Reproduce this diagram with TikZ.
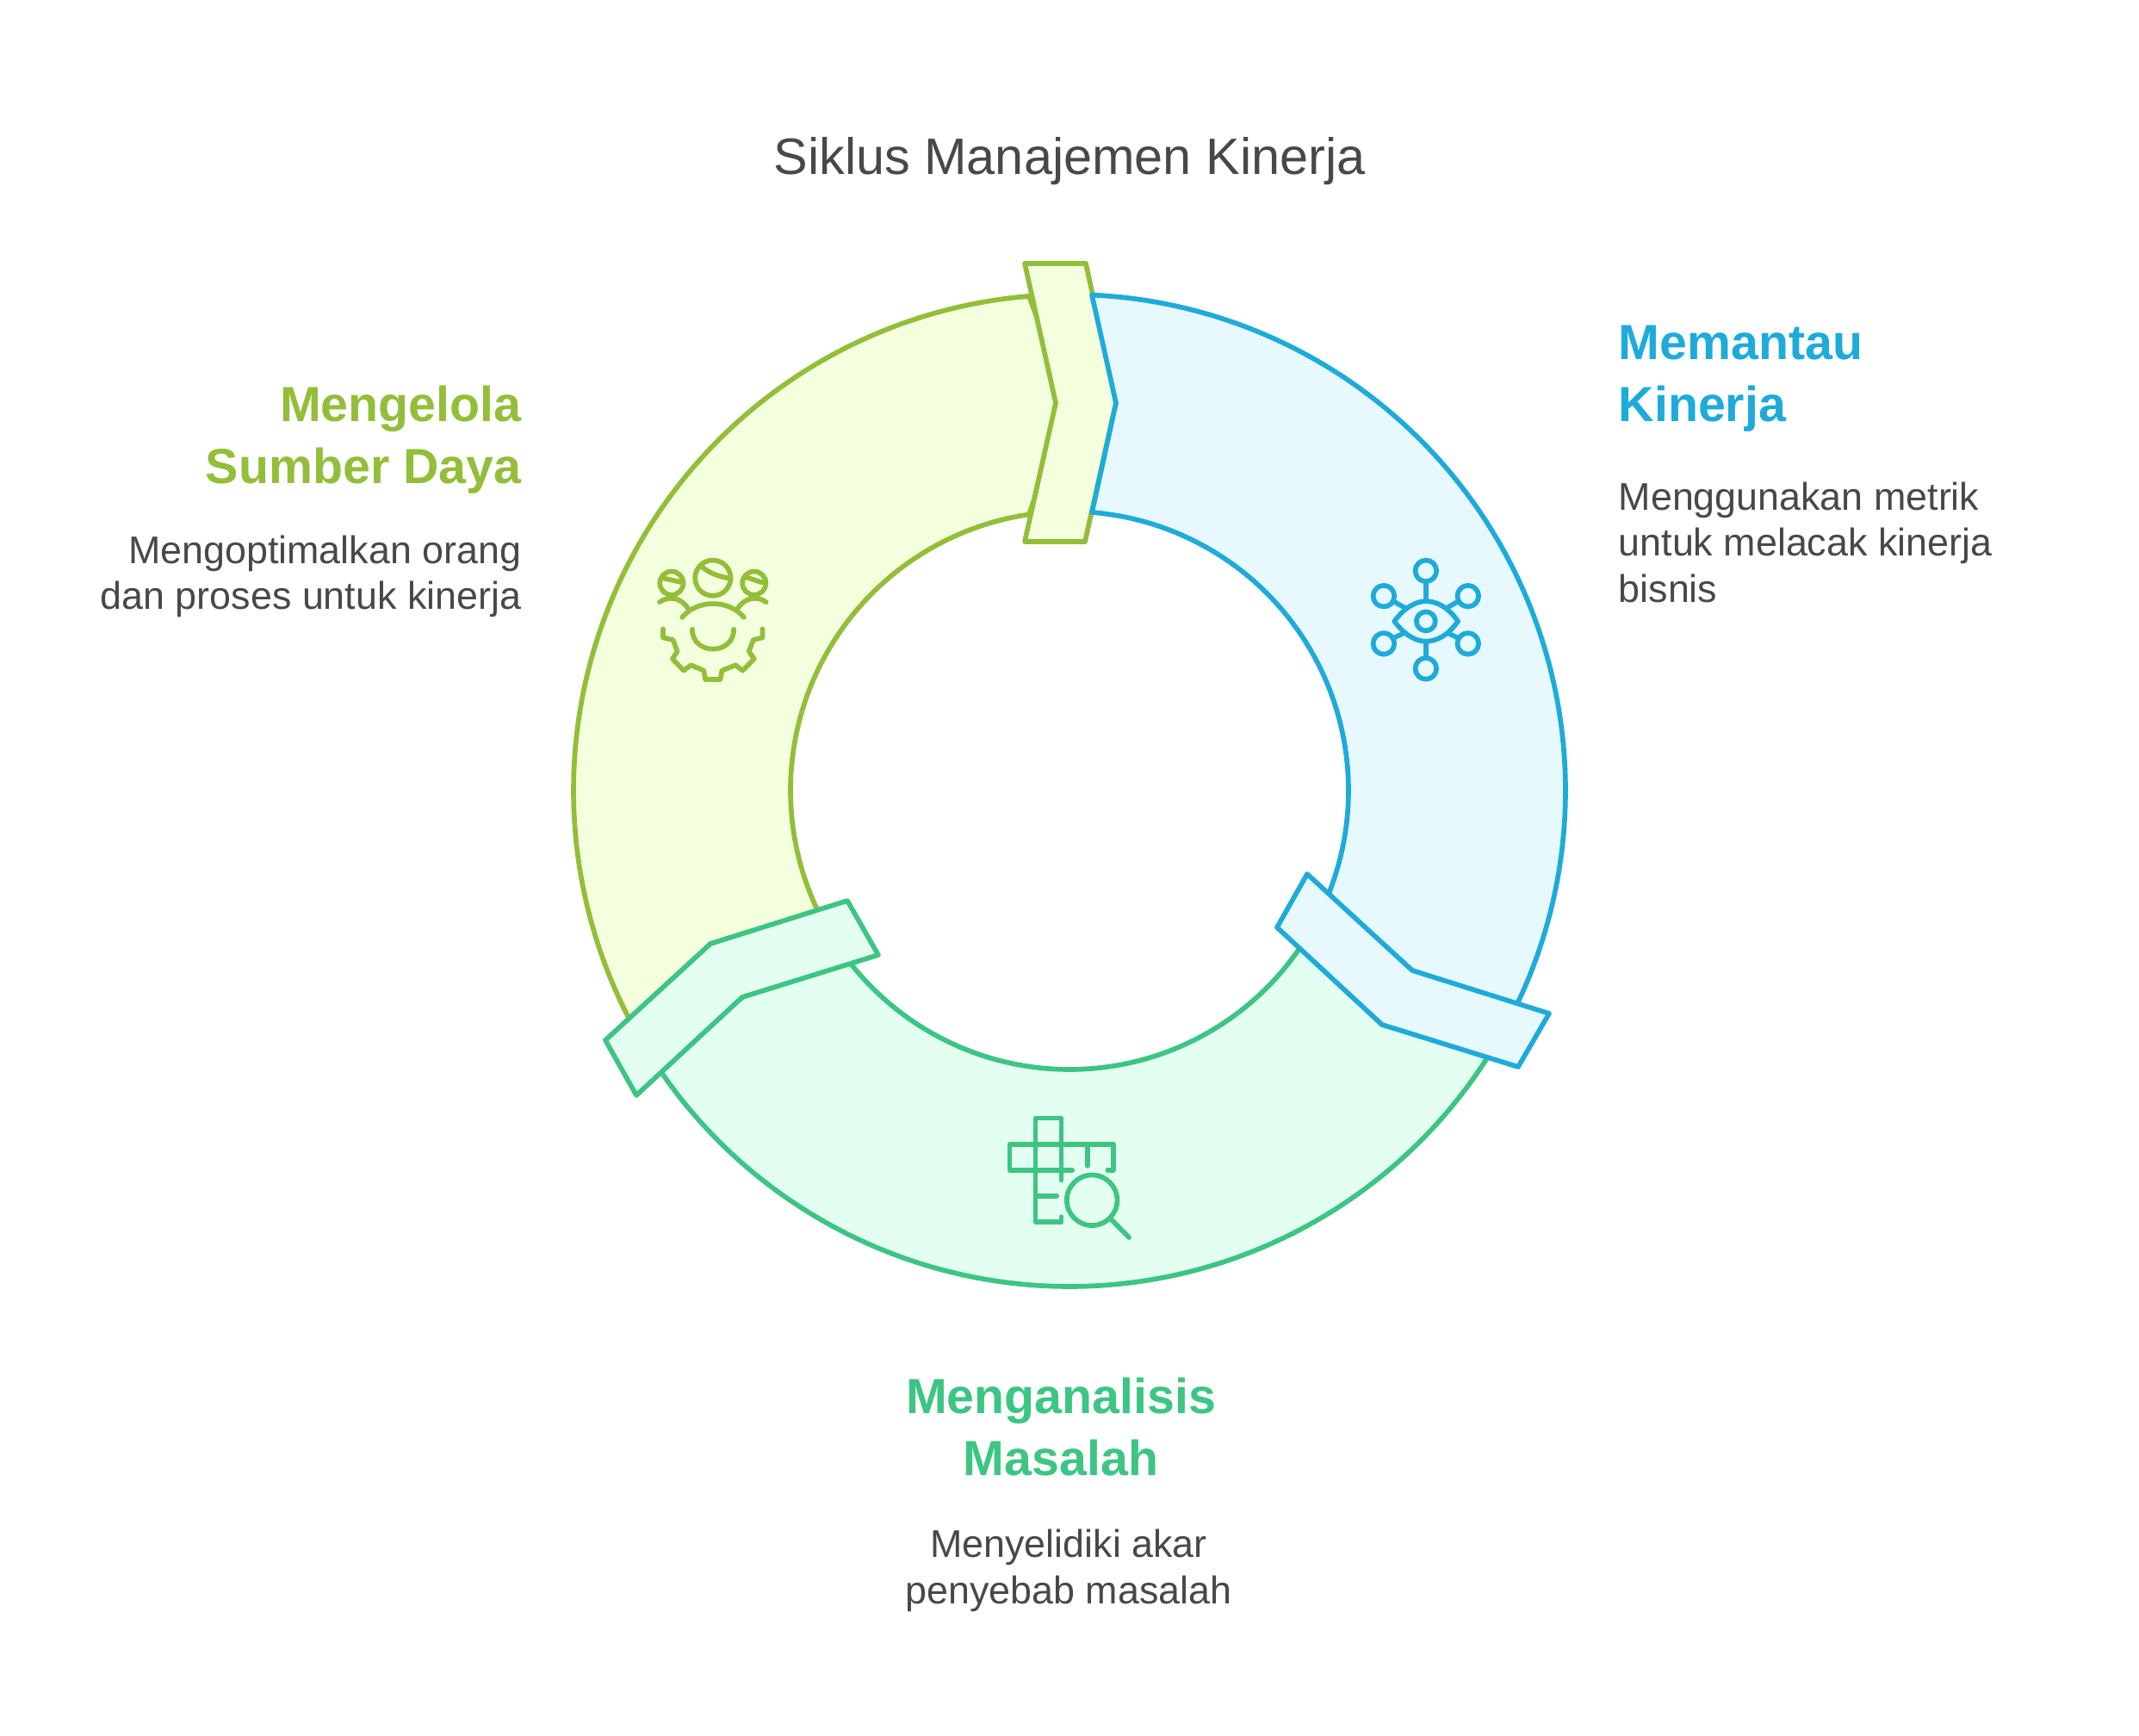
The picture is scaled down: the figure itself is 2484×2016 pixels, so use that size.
\documentclass[tikz,border=0pt]{standalone}
\usepackage{fontspec}
\setmainfont{Liberation Sans}
\usetikzlibrary{positioning,calc}

\definecolor{limeline}{HTML}{93BE39}
\definecolor{limefill}{HTML}{F4FFDE}
\definecolor{blueline}{HTML}{1EABDA}
\definecolor{bluefill}{HTML}{E7F9FF}
\definecolor{greenline}{HTML}{3CC583}
\definecolor{greenfill}{HTML}{E3FFF1}
\definecolor{textgray}{HTML}{484848}

\begin{document}
\begin{tikzpicture}[
  x=0.01cm, y=0.01cm,
  band/.style={line width=1.62pt, line join=round},
  icon/.style={line width=1.62pt, line join=round, line cap=round},
  heading/.style={inner sep=0pt, font=\fontsize{16.3}{20.5}\selectfont\bfseries},
  desc/.style={inner sep=0pt, text=textgray, font=\fontsize{12.75}{15.3}\selectfont}
]
\useasboundingbox (0,0) rectangle (2484,2016);
\coordinate (ctr) at (1242,1098);

% =======================================================
%                     RING
% =======================================================
% Mengelola Sumber Daya
\draw[band, draw=limeline, fill=limefill] ($(ctr)+(94.68:576)$) arc[start angle=94.68, end angle=208, radius=576]
  -- (825,920) -- ($(ctr)+(205.6:324)$) arc[start angle=205.6, end angle=98.36, radius=324] -- (1240,1548) -- cycle;
\draw[band, draw=limeline, fill=limefill] (1190,1710) -- (1261,1710) -- (1296,1548) -- (1260,1387) -- (1190,1387) -- (1226,1548) -- cycle;

% Menganalisis Masalah
\draw[band, draw=greenline, fill=greenfill] ($(ctr)+(-32:576)$) arc[start angle=-32, end angle=-146, radius=576]
  -- (862,858) -- ($(ctr)+(-142.4:324)$) arc[start angle=-142.4, end angle=-34.2, radius=324] -- (1605,826) -- cycle;
\draw[band, draw=greenline, fill=greenfill] (984,970) -- (1020,907) -- (862,858) -- (739,744) -- (703,808) -- (825,920) -- cycle;

% Memantau Kinerja
\draw[band, draw=blueline, fill=bluefill] ($(ctr)+(87.41:576)$) arc[start angle=87.41, end angle=-26, radius=576]
  -- (1640,889) -- ($(ctr)+(-22.5:324)$) arc[start angle=-22.5, end angle=85.38, radius=324] -- (1296,1548) -- cycle;
\draw[band, draw=blueline, fill=bluefill] (1518,1001) -- (1640,889) -- (1799,839) -- (1763,777) -- (1605,826) -- (1483,939) -- cycle;

% =======================================================
%                     ICONS
% =======================================================
% people and gear
\begin{scope}[shift={(720,1396)}, x=0.00333cm, y=-0.00333cm, icon, draw=limeline]
  \draw (324,154) circle[radius=62];
  \draw (283,113) .. controls (315,140) and (350,150) .. (387,156);
  \draw (180,172) circle[radius=41];
  \draw (152,155) -- (212,168);
  \draw (468,172) circle[radius=41];
  \draw (442,152) -- (497,170);
  \draw (138,238) .. controls (170,215) and (215,222) .. (238,262);
  \draw (510,238) .. controls (478,215) and (433,222) .. (410,262);
  \draw (217,291) .. controls (270,228) and (380,228) .. (432,291);
  \draw (252,333) .. controls (252,425) and (397,425) .. (397,333);
  \draw (150,332) -- (150,362) -- (185,370) -- (200,410) -- (183,436) -- (222,477) -- (248,458) -- (292,477) -- (298,508)
    -- (350,508) -- (356,477) -- (403,458) -- (428,477) -- (468,436) -- (450,410) -- (465,370) -- (497,362) -- (497,332);
\end{scope}

% eye and network
\begin{scope}[shift={(1560,1386)}, x=0.00333cm, y=-0.00333cm, icon, draw=blueline]
  \foreach \px/\py in {288/99, 288/440, 141/187, 435/187, 141/353, 435/353}
    \draw (\px,\py) circle[radius=37];
  \draw (288,275) circle[radius=33];
  \draw (178,275) .. controls (215,225) and (255,205) .. (288,205) .. controls (325,205) and (365,225) .. (400,275)
    .. controls (365,325) and (325,345) .. (288,345) .. controls (255,345) and (215,325) .. (178,275) -- cycle;
  \draw (288,143) -- (288,205);
  \draw (288,345) -- (288,397);
  \draw (178,207) -- (215,228);
  \draw (398,207) -- (362,228);
  \draw (178,332) -- (212,316);
  \draw (398,332) -- (364,316);
\end{scope}

% crossword and magnifier
\begin{scope}[shift={(1140,736)}, x=0.00333cm, y=-0.00333cm, icon, draw=greenline]
  \draw (278,400) -- (278,418) -- (188,418) -- (188,56) -- (278,56) -- (278,272);
  \draw (316,237) -- (98,237) -- (98,147) -- (460,147) -- (460,237) -- (440,237);
  \draw (369,147) -- (369,222);
  \draw (188,327) -- (262,327);
  \draw (385,342) circle[radius=88];
  \draw (455,412) -- (514,472);
\end{scope}

% =======================================================
%                     TEXT
% =======================================================
\node[inner sep=0pt, text=textgray, font=\fontsize{16.9}{20}\selectfont] (title) at (1242,1829) {Siklus Manajemen Kinerja};

\node[heading, text=blueline, align=left, anchor=north west] (monitor) at (1879,1639) {Memantau\\Kinerja};
\node[desc, align=left, below=5.7mm of monitor.south west, anchor=north west] (monitortext) {Menggunakan metrik\\untuk melacak kinerja\\bisnis};

\node[heading, text=limeline, align=right, anchor=north east] (manage) at (606,1569) {Mengelola\\Sumber Daya};
\node[desc, align=right, below=4.7mm of manage.south east, anchor=north east] (managetext) {Mengoptimalkan orang\\dan proses untuk kinerja};

\node[heading, text=greenline, align=center, anchor=north] (analyze) at (1232,417) {Menganalisis\\Masalah};
\node[desc, align=center, below=6.1mm of analyze.south, xshift=0.9mm, anchor=north] (analyzetext) {Menyelidiki akar\\penyebab masalah};
\end{tikzpicture}
\end{document}
